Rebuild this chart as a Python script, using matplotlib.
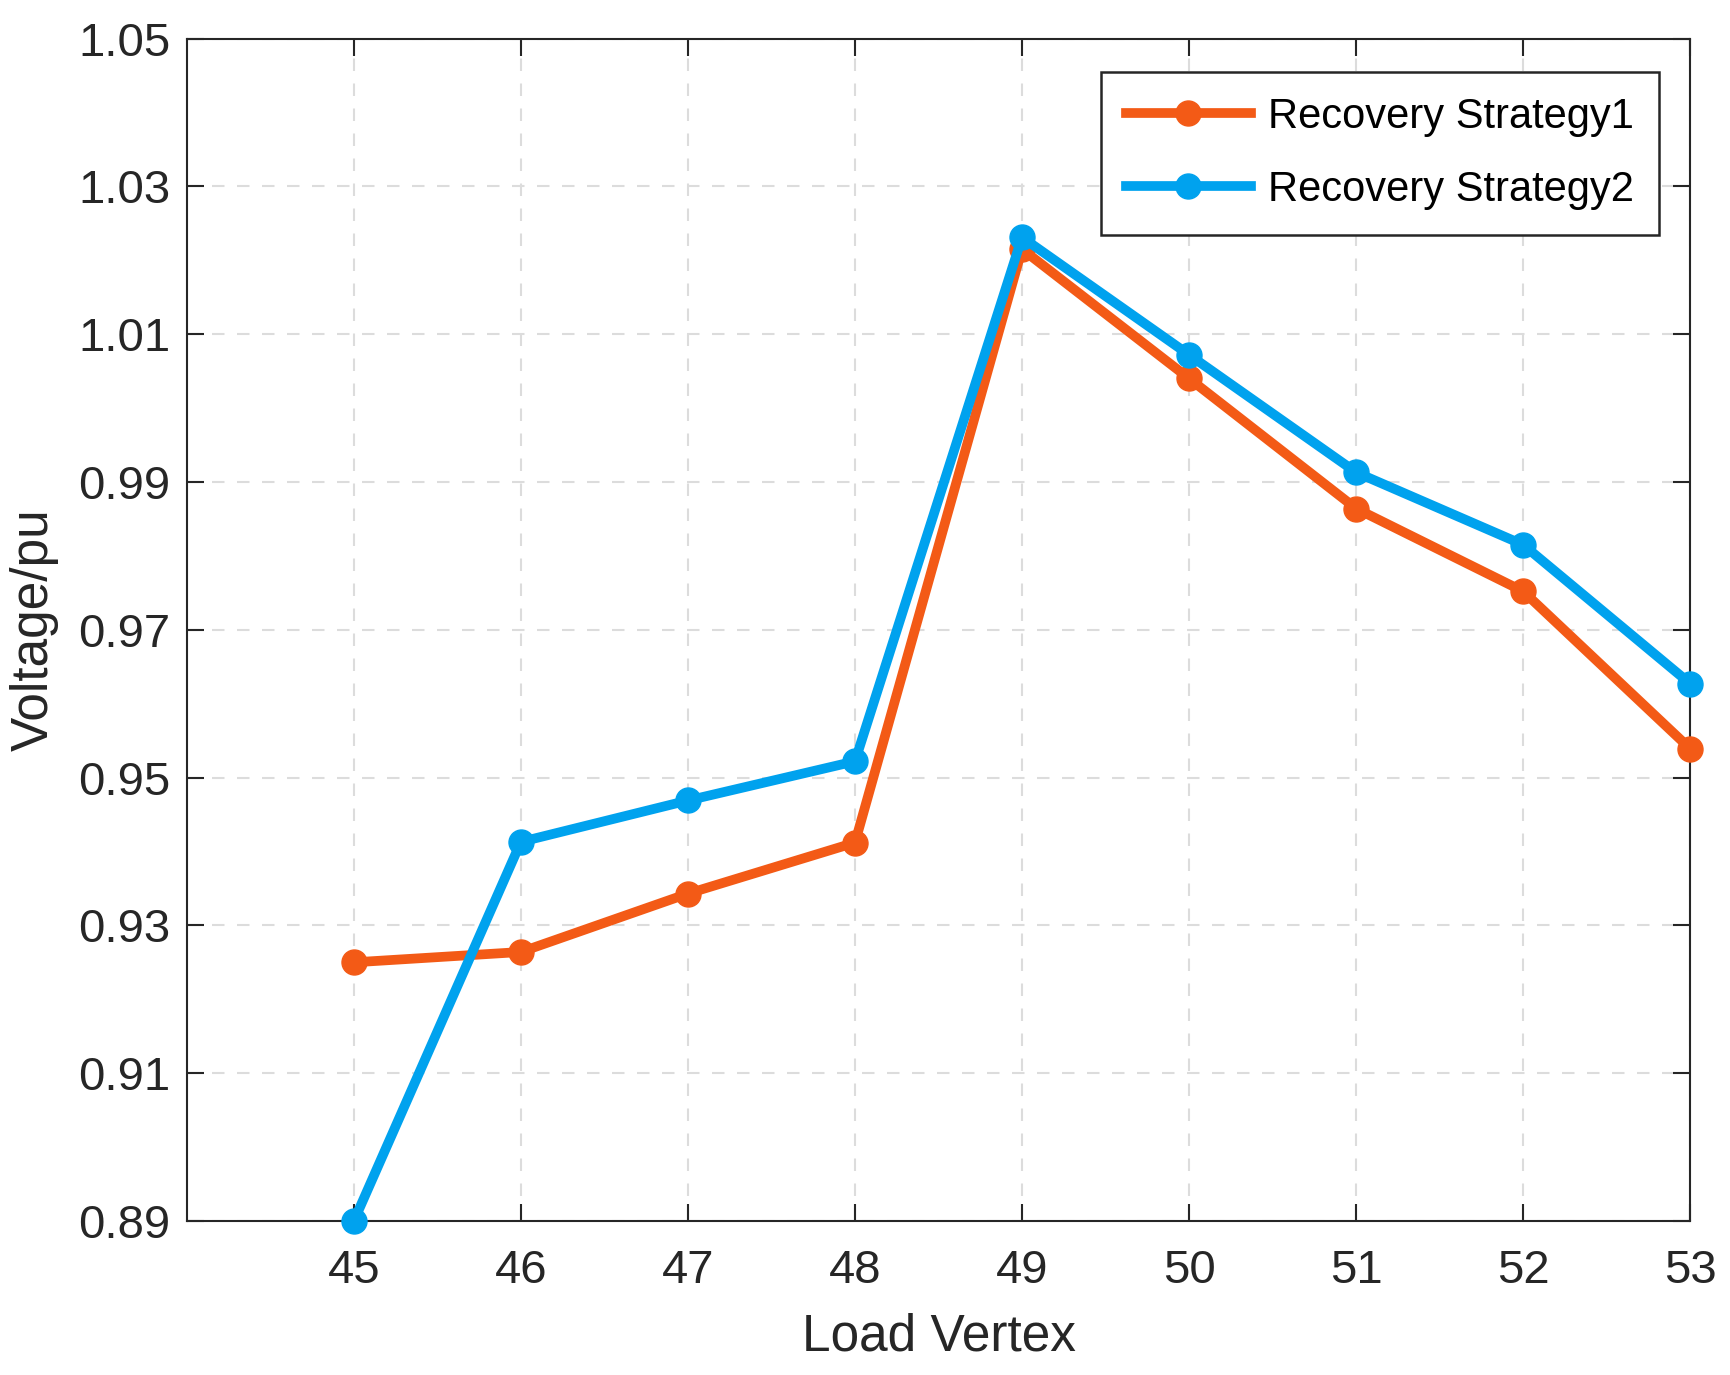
import numpy as np
import matplotlib.pyplot as plt

vertices = [45, 46, 47, 48, 49, 50, 51, 52, 53]
strategy1 = [0.9250, 0.9264, 0.9343, 0.9412, 1.0215, 1.0040, 0.9864, 0.9752, 0.9539]
strategy2 = [0.8900, 0.9413, 0.9469, 0.9522, 1.0231, 1.0072, 0.9913, 0.9815, 0.9627]
y_ticks = [0.89, 0.91, 0.93, 0.95, 0.97, 0.99, 1.01, 1.03, 1.05]

plt.rcParams["font.family"] = ["Liberation Sans", "DejaVu Sans"]

fig = plt.figure(figsize=(17.3, 13.75), dpi=100)
ax = fig.add_axes([0.108, 0.112, 0.869, 0.860])

ax.plot(vertices, strategy1, color='#F35A16', lw=7, marker='o', ms=18,
        label='Recovery Strategy1', clip_on=False, zorder=3)
ax.plot(vertices, strategy2, color='#00A2EE', lw=7, marker='o', ms=18,
        label='Recovery Strategy2', clip_on=False, zorder=4)

ax.set_xlim(44, 53)
ax.set_ylim(0.89, 1.05)
ax.set_xticks(vertices)
ax.set_yticks(y_ticks)
ax.set_yticklabels([f"{t:.2f}" for t in y_ticks])

ax.grid(True, linestyle=(0, (6, 6)), color='#DCDCDC', lw=1.5)
ax.set_axisbelow(True)
ax.tick_params(direction='in', length=12, width=1.5, labelsize=34,
               top=True, right=True, colors='#262626')
ax.tick_params(axis='x', pad=20)
ax.tick_params(axis='y', pad=12)
for s in ax.spines.values():
    s.set_color('#262626')
    s.set_linewidth(1.5)

ax.set_xlabel('Load Vertex', fontsize=37, color='#262626', labelpad=14)
ax.set_ylabel('Voltage/pu', fontsize=37, color='#262626', labelpad=14)

leg = ax.legend(loc='upper right', fontsize=30, fancybox=False, framealpha=1,
                edgecolor='#262626', borderpad=0.6, handlelength=3.0,
                labelspacing=0.8, handletextpad=0.4, borderaxespad=0,
                bbox_to_anchor=(0.979, 0.972))
leg.get_frame().set_linewidth(1.8)

fig.savefig('out.png', dpi=100, facecolor='white')
